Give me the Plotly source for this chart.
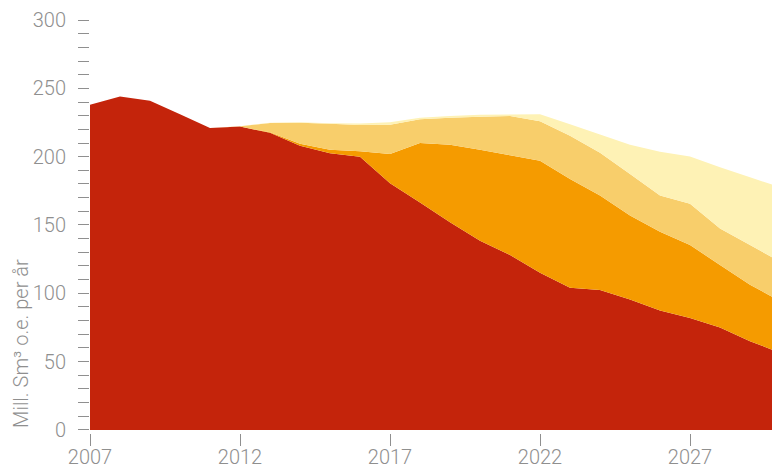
import plotly.graph_objects as go

# Production forecast, Mill. Sm3 o.e. per year (stacked layers)
years = list(range(2007, 2031))

red = [238, 244, 241, 231, 221, 222, 217.5, 208, 202.5, 200, 180.5, 166.5,
       152, 138.5, 128, 115, 104, 102.5, 95.5, 87.5, 82, 75, 65, 56.5]
orange = [0, 0, 0, 0, 0, 0, 0.3, 1.5, 2.5, 4, 21.5, 43.5,
          56.7, 66.5, 73, 82, 79.7, 69, 61.5, 57.5, 53.3, 45.8, 41.3, 37.9]
light = [0, 0, 0, 0, 0, 0.2, 6.8, 15.3, 19, 19.2, 21.3, 17.3,
         19.8, 24.2, 28.7, 29, 31.6, 31.4, 30.4, 26.6, 30.3, 26.6, 29, 28.8]
pale = [0, 0, 0, 0, 0, 0, 0.3, 0.3, 0.5, 1, 1.9, 1.2,
        1.3, 1.5, 1.2, 5, 8.4, 13.4, 21.3, 32, 34.6, 44.8, 49.6, 54.5]

layers = [
    (red, '#c4240b'),
    (orange, '#f59b00'),
    (light, '#f8ce6b'),
    (pale, '#fef2b5'),
]

grey = '#8f8f8f'
fam = 'Roboto, Liberation Sans, sans-serif'
font = dict(family=fam, size=20, color=grey, weight=300)

fig = go.Figure()
for vals, col in layers:
    fig.add_trace(go.Scatter(
        x=years,
        y=vals,
        stackgroup='one',
        mode='none',
        fillcolor=col,
        line=dict(width=0),
        hoverinfo='skip',
    ))

# page body has an 8px margin, so the figure is sized to fit the window
fig.update_layout(dict(
    width=772,
    height=460,
    margin=dict(l=82, r=0, t=12, b=35),
    paper_bgcolor='white',
    plot_bgcolor='white',
    showlegend=False,
    font=font,
    xaxis=dict(
        range=[2007, 2030],
        tickmode='array',
        tickvals=[2007, 2012, 2017, 2022, 2027],
        ticks='outside',
        ticklen=12,
        tickwidth=1,
        tickcolor=grey,
        ticklabelstandoff=-6,
        anchor='free',
        position=0,
        showgrid=False,
        zeroline=False,
        showline=False,
        automargin=False,
        tickfont=font,
    ),
    # areas sit a few pixels above the year ticks, as in the original
    yaxis=dict(
        range=[0, 300],
        domain=[0.0073, 1],
        tickmode='linear',
        tick0=0,
        dtick=50,
        ticks='outside',
        ticklen=11,
        tickwidth=1,
        tickcolor=grey,
        ticklabelstandoff=8,
        minor=dict(dtick=10, ticks='outside', ticklen=11, tickcolor=grey, tickwidth=1),
        showgrid=False,
        zeroline=False,
        showline=False,
        automargin=False,
        tickfont=font,
    ),
))

fig.add_annotation(
    text='Mill. Sm³ o.e. per år',
    textangle=-90,
    xref='paper', yref='paper',
    x=-0.101, y=0.007,
    xanchor='center', yanchor='bottom',
    showarrow=False,
    font=dict(family=fam, size=20, color=grey, weight=300),
)

fig.write_html('out.html')
